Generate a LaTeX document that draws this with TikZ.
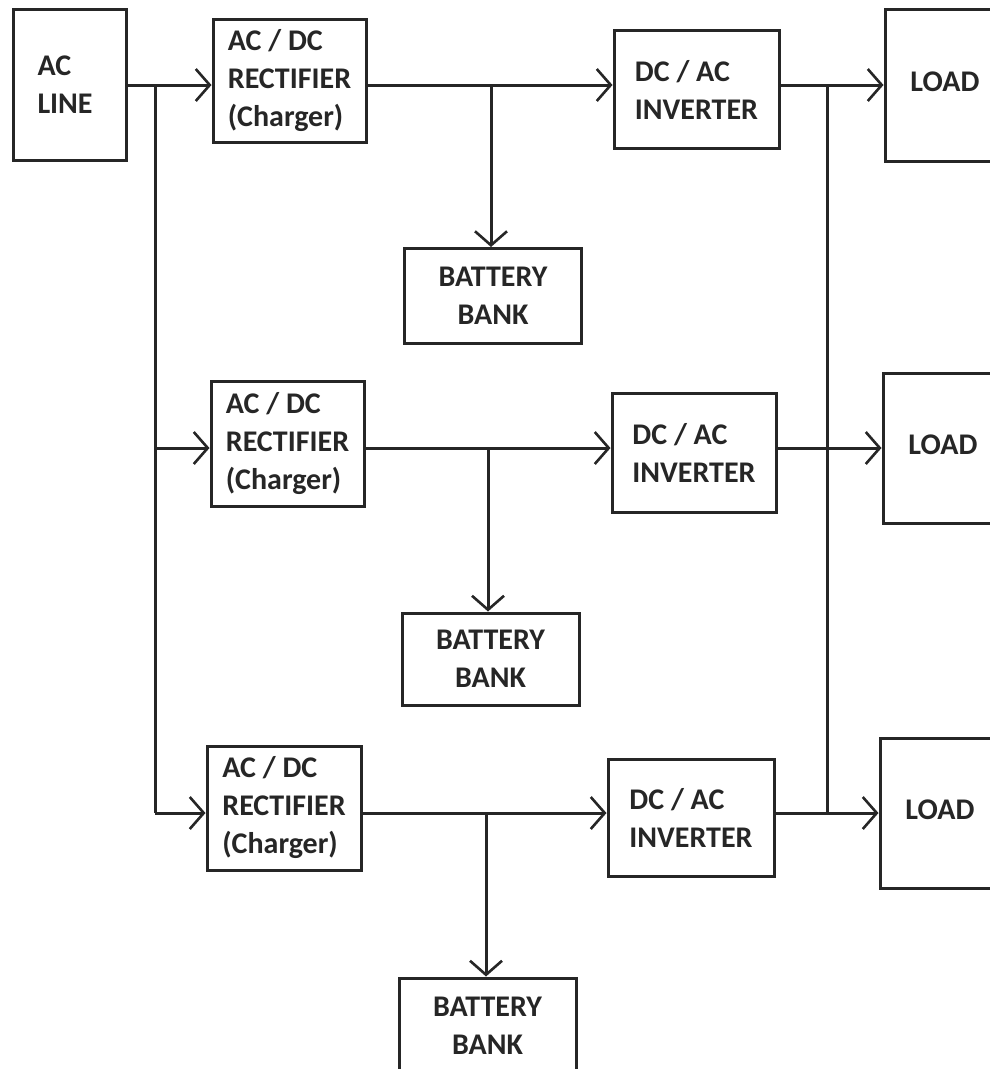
\documentclass[tikz,border=0pt]{standalone}
\usepackage{fontspec}
\setmainfont{Carlito}
\usetikzlibrary{arrows.meta}
\begin{document}
\begin{tikzpicture}[x=1pt,y=-1pt,
  box/.style={draw=black!85, line width=3pt, rectangle, inner sep=0pt,
    font=\fontsize{30}{38}\selectfont\bfseries, text=black!85, align=left},
  cbox/.style={box, align=center},
  wire/.style={draw=black!85, line width=3pt},
  arr/.style={wire, -{Straight Barb[length=14pt,width=32pt,line width=2.6pt]}}]
\useasboundingbox (0,0) rectangle (990,1069);
\clip (0,0) rectangle (990,1069);
% boxes
\node[box, minimum width=113pt, minimum height=151pt] (ac) at (69.5,84.5) {\hspace*{-9pt}\raisebox{3pt}{\parbox{55pt}{AC\\LINE}}};
\node[box, minimum width=153pt, minimum height=123pt] (r1) at (289.5,80.5) {AC / DC\\RECTIFIER\\(Charger)};
\node[box, minimum width=153pt, minimum height=125pt] (r2) at (287.5,443.5) {AC / DC\\RECTIFIER\\(Charger)};
\node[box, minimum width=154pt, minimum height=124pt] (r3) at (284,808) {AC / DC\\RECTIFIER\\(Charger)};
\node[box, minimum width=165pt, minimum height=118pt] (i1) at (696.5,89.5) {DC / AC\\INVERTER};
\node[box, minimum width=164pt, minimum height=119pt] (i2) at (694,452.5) {DC / AC\\INVERTER};
\node[box, minimum width=166pt, minimum height=117pt] (i3) at (691,817.5) {DC / AC\\INVERTER};
\node[cbox, minimum width=177pt, minimum height=95pt] (b1) at (493,296) {BATTERY\\BANK};
\node[cbox, minimum width=177pt, minimum height=92pt] (b2) at (490.5,659) {BATTERY\\BANK};
\node[cbox, minimum width=177pt, minimum height=95pt] (b3) at (487.5,1025.5) {BATTERY\\BANK};
\node[cbox, minimum width=120pt, minimum height=152pt] (l1) at (945,85) {\raisebox{6pt}{LOAD}};
\node[cbox, minimum width=120pt, minimum height=150pt] (l2) at (943,448) {\raisebox{6pt}{LOAD}};
\node[cbox, minimum width=120pt, minimum height=150pt] (l3) at (940,813) {\raisebox{6pt}{LOAD}};
% row levels and junctions
\coordinate (y1) at (0,85);
\coordinate (y2) at (0,448);
\coordinate (y3) at (0,813);
\coordinate (bus1) at (155,85);
\coordinate (bus3) at (155,813);
\coordinate (j1) at (491,85);
\coordinate (j2) at (488,448);
\coordinate (j3) at (486,813);
\coordinate (o1) at (827,85);
\coordinate (o3) at (827,813);
% left side
\draw[arr] (ac.east |- y1) -- (r1.west |- y1);
\draw[wire] (bus1) -- (bus3);
\draw[arr] (bus1 |- y2) -- (r2.west |- y2);
\draw[arr] (bus3) -- (r3.west |- y3);
% rectifier to inverter
\draw[arr] (r1.east |- y1) -- (i1.west |- y1);
\draw[arr] (r2.east |- y2) -- (i2.west |- y2);
\draw[arr] (r3.east |- y3) -- (i3.west |- y3);
% battery branches
\draw[arr] (j1) -- (j1 |- b1.north);
\draw[arr] (j2) -- (j2 |- b2.north);
\draw[arr] (j3) -- (j3 |- b3.north);
% outputs
\draw[arr] (i1.east |- y1) -- (l1.west |- y1);
\draw[arr] (i2.east |- y2) -- (l2.west |- y2);
\draw[arr] (i3.east |- y3) -- (l3.west |- y3);
\draw[wire] (o1) -- (o3);
\end{tikzpicture}
\end{document}
